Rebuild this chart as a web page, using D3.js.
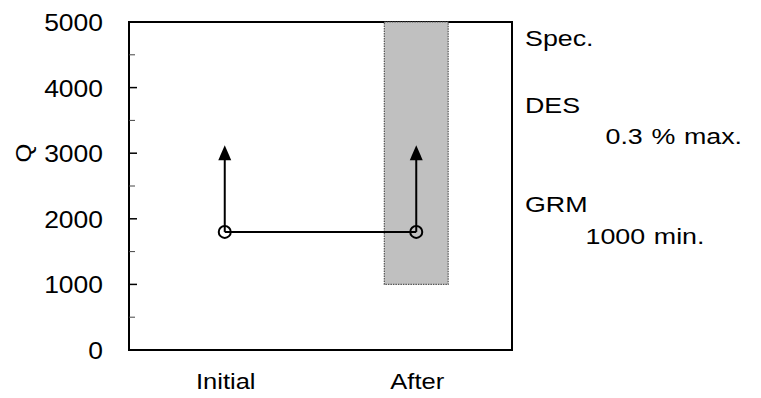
<!DOCTYPE html>
<html>
<head>
<meta charset="utf-8">
<script src="https://cdn.jsdelivr.net/npm/d3@7"></script>
<style>
html,body{margin:0;padding:0;background:#fff;}
text{font-family:"Liberation Sans",Arial,sans-serif;fill:#000;}
</style>
</head>
<body>
<svg id="chart" width="761" height="398"></svg>
<script>
const categories = ["Initial", "After"];
const values = [1800, 1800];
const arrowTo = [3120, 3120];
const specCategory = "After";
const specRange = [1000, 5000];
const yTicks = [0, 1000, 2000, 3000, 4000, 5000];
const yMinorTicks = [500, 1500, 2500, 3500, 4500];
const yLabel = "Q";
const specTexts = [
  {t: "Spec.", indent: 0, line: 0},
  {t: "DES", indent: 0, line: 1},
  {t: "0.3 % max.", indent: 1, line: 2},
  {t: "GRM", indent: 0, line: 3},
  {t: "1000 min.", indent: 2, line: 4}
];

const svg = d3.select("#chart");
const L = 129, R = 512, T = 22, B = 350;
const x = d3.scaleBand().domain(categories).range([L, R]).padding(0);
const y = d3.scaleLinear().domain([0, 5000]).range([B, T]);
const cx = c => x(c) + x.bandwidth() / 2;
const SX = 1.16;

// frame
svg.append("rect").attr("x", L).attr("y", T).attr("width", R - L).attr("height", B - T)
  .attr("fill", "none").attr("stroke", "#000").attr("stroke-width", 2);

// y ticks (inward)
svg.append("g").selectAll("line").data(yTicks).join("line")
  .attr("x1", L).attr("x2", L + 8).attr("y1", d => y(d)).attr("y2", d => y(d))
  .attr("stroke", "#000").attr("stroke-width", 1.5);
svg.append("g").selectAll("line").data(yMinorTicks).join("line")
  .attr("x1", L).attr("x2", L + 6).attr("y1", d => y(d)).attr("y2", d => y(d))
  .attr("stroke", "#444").attr("stroke-width", 1);
svg.append("g").selectAll("text").data(yTicks).join("text")
  .attr("transform", d => `translate(103,${y(d)}) scale(1.08,1)`).attr("dy", "0.37em")
  .attr("text-anchor", "end").attr("font-size", 24.5).text(d => d);

// y label
svg.append("text").attr("transform", `translate(30.5,${y(3000)}) rotate(-90) scale(1.1,1)`)
  .attr("text-anchor", "middle").attr("font-size", 22).text(yLabel);

// x labels
svg.append("g").selectAll("text").data(categories).join("text")
  .attr("transform", d => `translate(${cx(d) + 1},388.5) scale(${SX},1)`)
  .attr("text-anchor", "middle").attr("font-size", 22).text(d => d);

// spec band
const bw = x.bandwidth() / 3;
svg.append("rect")
  .attr("x", cx(specCategory) - bw / 2).attr("width", bw)
  .attr("y", y(specRange[1])).attr("height", y(specRange[0]) - y(specRange[1]))
  .attr("fill", "#c0c0c0").attr("stroke", "#555").attr("stroke-width", 1.2)
  .attr("stroke-dasharray", "1.5,1");

// connecting line
svg.append("path")
  .attr("d", d3.line().x((d, i) => cx(categories[i])).y(d => y(d))(values))
  .attr("fill", "none").attr("stroke", "#000").attr("stroke-width", 2);

// arrows
const g = svg.append("g");
categories.forEach((c, i) => {
  const xc = cx(c), y0 = y(values[i]), y1 = y(arrowTo[i]);
  g.append("line").attr("x1", xc).attr("x2", xc).attr("y1", y0).attr("y2", y1 + 12)
    .attr("stroke", "#000").attr("stroke-width", 2);
  g.append("path").attr("d", `M${xc},${y1} L${xc - 6.5},${y1 + 15} L${xc + 6.5},${y1 + 15} Z`)
    .attr("fill", "#000");
  g.append("circle").attr("cx", xc).attr("cy", y0).attr("r", 6)
    .attr("fill", "none").attr("stroke", "#000").attr("stroke-width", 2);
});

// spec text
const lineY = [45.7, 112.5, 143.5, 211.7, 243.5];
const indentX = [525, 605.5, 585.5];
svg.append("g").selectAll("text").data(specTexts).join("text")
  .attr("transform", d => `translate(${indentX[d.indent]},${lineY[d.line]}) scale(1.22,1)`)
  .attr("font-size", 22).attr("word-spacing", 1).text(d => d.t);
</script>
</body>
</html>
